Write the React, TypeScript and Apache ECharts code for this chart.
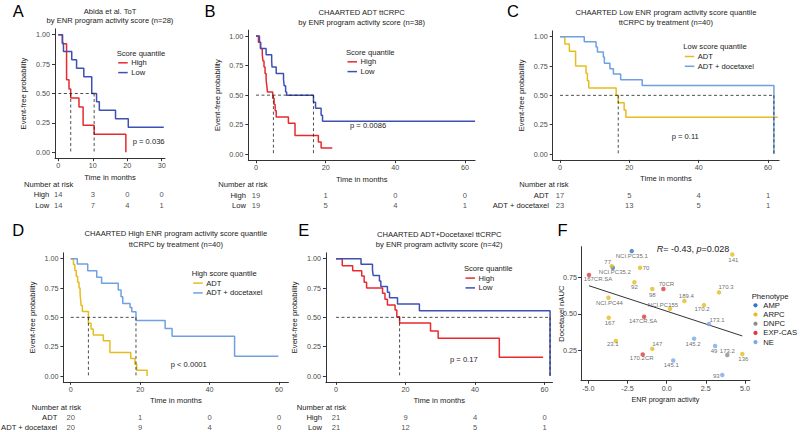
import { useEffect, useRef } from "react";
import * as echarts from "echarts";

type Pt = [number, number];

const FONT = "'Liberation Sans', Arial, Helvetica, sans-serif";
const INK = "#1a1a1a";
const TICK_INK = "#4a4a4a";
const AXIS_INK = "#333333";

const RED = "#E8292E";
const BLUE = "#3F50B5";
const GOLD = "#E6BD1E";
const SKY = "#6FA0E3";

// ---------- A: Abida et al. ToT ----------
const abidaTimes = [0, 10, 20, 30];
const abidaGroups = ["High", "Low"];
const abidaHigh: Pt[] = [[0, 1], [1.2, 0.924], [2.4, 0.616], [3.1, 0.538], [3.6, 0.462], [6.0, 0.385], [7.2, 0.231], [10.4, 0.154], [19.6, 0]];
const abidaLow: Pt[] = [[0, 1], [1.2, 0.929], [1.5, 0.857], [3.9, 0.786], [5.3, 0.714], [7.4, 0.643], [9.7, 0.5], [11.1, 0.429], [11.9, 0.357], [16.6, 0.286], [20.3, 0.214], [30.6, 0.214]];
const abidaMedians = [3.6, 10.4];
const abidaRisk = [[14, 3, 0, 0], [14, 7, 4, 1]];

// ---------- B: CHAARTED ADT ttCRPC ----------
const adtTimes = [0, 20, 40, 60];
const adtGroups = ["High", "Low"];
const adtHigh: Pt[] = [[0, 1], [0.7, 0.947], [1.3, 0.895], [1.8, 0.842], [2.0, 0.789], [2.3, 0.737], [2.6, 0.684], [2.9, 0.632], [3.1, 0.579], [3.3, 0.526], [4.8, 0.474], [5.2, 0.421], [5.5, 0.368], [5.8, 0.316], [9.3, 0.263], [11.2, 0.158], [17.9, 0.105], [18.7, 0.053], [21.9, 0.053]];
const adtLow: Pt[] = [[0, 1], [1.0, 0.947], [1.3, 0.895], [2.9, 0.842], [4.5, 0.789], [4.6, 0.737], [5.8, 0.684], [7.9, 0.632], [8.1, 0.579], [8.5, 0.526], [8.8, 0.5], [16.5, 0.44], [17.1, 0.39], [18.7, 0.33], [19.1, 0.28], [62.9, 0.28]];
const adtMedians = [5.0, 16.5];
const adtRisk = [[19, 1, 0, 0], [19, 5, 4, 1]];

// ---------- C: low score quantile by treatment ----------
const lowTimes = [0, 20, 40, 60];
const lowGroups = ["ADT", "ADT + docetaxel"];
const lowAdt: Pt[] = [[0, 1], [1.4, 0.9375], [2.7, 0.875], [4.5, 0.75], [7.5, 0.6875], [7.9, 0.625], [8.3, 0.5625], [16.2, 0.5], [16.8, 0.4375], [18.5, 0.375], [19.0, 0.3125], [62.8, 0.3125]];
const lowDoc: Pt[] = [[0, 1], [7.0, 0.957], [10.4, 0.913], [10.8, 0.87], [12.5, 0.826], [12.8, 0.773], [14.4, 0.727], [15.4, 0.682], [17.5, 0.634], [23.7, 0.585], [61.7, 0]];
const lowMedians = [16.8, 61.7];
const lowRisk = [[17, 5, 4, 1], [23, 13, 5, 1]];

// ---------- D: high score quantile by treatment ----------
const highTimes = [0, 20, 40, 60];
const highGroups = ["ADT", "ADT + docetaxel"];
const highAdt: Pt[] = [[0, 1], [0.8, 0.95], [1.2, 0.9], [1.6, 0.85], [2.0, 0.8], [2.4, 0.75], [2.7, 0.7], [2.85, 0.65], [3.0, 0.6], [3.35, 0.55], [5.1, 0.45], [5.85, 0.4], [6.5, 0.35], [9.4, 0.3], [11.3, 0.2], [17.3, 0.15], [18.5, 0.1], [19.0, 0.05], [22.0, 0]];
const highDoc: Pt[] = [[0, 1], [1.9, 0.955], [4.9, 0.898], [7.5, 0.841], [8.9, 0.79], [13.7, 0.733], [14.5, 0.676], [15.0, 0.619], [17.1, 0.585], [17.6, 0.548], [18.8, 0.474], [27.2, 0.406], [29.2, 0.338], [47.2, 0.169], [59.8, 0.169]];
const highMedians = [5.1, 18.8];
const highRisk = [[20, 1, 0, 0], [20, 9, 4, 0]];

// ---------- E: ADT+Docetaxel by score ----------
const docTimes = [0, 20, 40, 60];
const docGroups = ["High", "Low"];
const docHigh: Pt[] = [[0, 1], [1.8, 0.94], [4.8, 0.898], [7.4, 0.852], [8.1, 0.8], [8.8, 0.75], [13.4, 0.705], [14.1, 0.655], [14.8, 0.605], [17.0, 0.563], [17.5, 0.506], [18.3, 0.452], [27.2, 0.383], [29.4, 0.321], [47.0, 0.159], [59.6, 0.159]];
const docLow: Pt[] = [[0, 1], [7.2, 0.952], [10.5, 0.905], [10.7, 0.857], [12.5, 0.81], [12.9, 0.762], [14.8, 0.714], [15.4, 0.667], [17.7, 0.614], [24.0, 0.557], [61.6, 0]];
const docMedians = [18.3, 61.6];
const docRisk = [[21, 9, 4, 0], [21, 12, 5, 1]];

// ---------- F: docetaxel response vs ENR activity ----------
const fIds = ["NCI.PC35.1", "77", "NCI.PC35.2", "70", "167CR.SA", "141", "92", "70CR", "98", "170.3", "NCI.PC44", "189.4", "170.2", "NCI.PC155", "167", "147CR.SA", "173.1", "23.1", "147", "170.2CR", "145.2", "49", "145.1", "173.2", "136", "93"];
const fEnr = [-2.23, -3.51, -3.44, -1.7, -4.96, 4.19, -2.06, -0.21, -0.92, 3.34, -3.72, 1.13, 2.38, 0.21, -3.7, -1.44, 2.7, -3.25, -0.92, -1.53, 1.75, 3.09, 0.42, 3.87, 4.83, 3.55];
const fAuc = [0.93, 0.827, 0.816, 0.816, 0.766, 0.907, 0.716, 0.67, 0.67, 0.647, 0.61, 0.588, 0.56, 0.535, 0.473, 0.48, 0.43, 0.314, 0.26, 0.222, 0.33, 0.28, 0.18, 0.218, 0.225, 0.081];
const fPheno = ["AMP", "ARPC", "AMP", "ARPC", "EXP-CAS", "ARPC", "ARPC", "EXP-CAS", "ARPC", "ARPC", "ARPC", "ARPC", "ARPC", "ARPC", "ARPC", "EXP-CAS", "NE", "ARPC", "ARPC", "EXP-CAS", "NE", "NE", "NE", "DNPC", "ARPC", "NE"];
const phenotypes = ["AMP", "ARPC", "DNPC", "EXP-CAS", "NE"];
const fXTicks = [-5, -2.5, 0, 2.5, 5];
const fYTicks = [0.25, 0.5, 0.75];
const probTicks = [0, 0.25, 0.5, 0.75, 1];

// label nudges (px) for the sample names, like a repel layout
const labelNudge: Record<string, [number, number]> = {
  "NCI.PC35.1": [0, 5], "77": [-4, -4.5], "NCI.PC35.2": [2, 4], "70": [6, 0], "167CR.SA": [9, 4],
  "141": [1, 6], "92": [0, 5], "70CR": [3, -5], "98": [0, 6], "170.3": [7, -5], "NCI.PC44": [1, 5],
  "189.4": [2, -5], "170.2": [-2, 4], "NCI.PC155": [-7, -4], "167": [1, 5], "147CR.SA": [-1, 4],
  "173.1": [8, -4], "23.1": [-3, 3], "147": [5, -5], "170.2CR": [-1, 4], "145.2": [-1, 5], "49": [-1, 5],
  "145.1": [-2, 4], "173.2": [0, -4], "136": [1, 5], "93": [-6, 1],
};
const phenoColor: Record<string, string> = {
  AMP: "#3474C6", ARPC: "#E4BD22", DNPC: "#8C8C8C", "EXP-CAS": "#DF3A3F", NE: "#7DA7E6",
};

interface KmPanel {
  letter: string; letterAt: Pt;
  title: string[]; titleY: number[];
  legendTitle: string; legendAt: Pt;
  groups: string[]; colors: string[]; curves: Pt[][]; medians: number[];
  pText: string; pAt: Pt;
  ticks: number[]; risk: number[][];
  x0: number; sx: number; xMin: number; xMax: number; y0: number; sy: number;
  riskRowY: number; riskTitleAt: Pt; rowGap: number;
}

const kmPanels: KmPanel[] = [
  {
    letter: "A", letterAt: [18.3, 11], title: ["Abida et al. ToT", "by ENR program activity score (n=28)"], titleY: [11, 20.5],
    legendTitle: "Score quantile", legendAt: [116.7, 53], groups: abidaGroups, colors: [RED, BLUE],
    curves: [abidaHigh, abidaLow], medians: abidaMedians, pText: "p = 0.036", pAt: [132.7, 141.7],
    ticks: abidaTimes, risk: abidaRisk, x0: 58.3, sx: 3.447, xMin: -0.96, xMax: 30.95, y0: 152.3, sy: 117.6,
    riskRowY: 194.5, riskTitleAt: [24, 184], rowGap: 9,
  },
  {
    letter: "B", letterAt: [210, 11], title: ["CHAARTED ADT ttCRPC", "by ENR program activity score (n=38)"], titleY: [12.3, 22],
    legendTitle: "Score quantile", legendAt: [346, 52], groups: adtGroups, colors: [RED, BLUE],
    curves: [adtHigh, adtLow], medians: adtMedians, pText: "p = 0.0086", pAt: [350, 125],
    ticks: adtTimes, risk: adtRisk, x0: 256, sx: 3.483, xMin: -2.2, xMax: 62.9, y0: 154.3, sy: 118.3,
    riskRowY: 195, riskTitleAt: [218.3, 184], rowGap: 10,
  },
  {
    letter: "C", letterAt: [513, 11], title: ["CHAARTED Low ENR program activity score quantile", "ttCRPC by treatment (n=40)"], titleY: [12.7, 22],
    legendTitle: "Low score quantile", legendAt: [683.3, 46.7], groups: lowGroups, colors: [GOLD, SKY],
    curves: [lowAdt, lowDoc], medians: lowMedians, pText: "p = 0.11", pAt: [671.7, 136],
    ticks: lowTimes, risk: lowRisk, x0: 560, sx: 3.467, xMin: -2.1, xMax: 63.2, y0: 154, sy: 117.3,
    riskRowY: 195.3, riskTitleAt: [519.3, 184], rowGap: 11,
  },
  {
    letter: "D", letterAt: [18.3, 230], title: ["CHAARTED High ENR program activity score quantile", "ttCRPC by treatment (n=40)"], titleY: [233.5, 244],
    legendTitle: "High score quantile", legendAt: [191.7, 273.3], groups: highGroups, colors: [GOLD, SKY],
    curves: [highAdt, highDoc], medians: highMedians, pText: "p < 0.0001", pAt: [170.7, 364],
    ticks: highTimes, risk: highRisk, x0: 70.7, sx: 3.472, xMin: -2.1, xMax: 62.7, y0: 376, sy: 117.3,
    riskRowY: 417.3, riskTitleAt: [31.7, 407.3], rowGap: 13.4,
  },
  {
    letter: "E", letterAt: [303.7, 230], title: ["CHAARTED ADT+Docetaxel ttCRPC", "by ENR program activity score (n=42)"], titleY: [234, 244],
    legendTitle: "Score quantile", legendAt: [464, 268.3], groups: docGroups, colors: [RED, BLUE],
    curves: [docHigh, docLow], medians: docMedians, pText: "p = 0.17", pAt: [450, 359],
    ticks: docTimes, risk: docRisk, x0: 336, sx: 3.475, xMin: -2.9, xMax: 62.3, y0: 376, sy: 117.3,
    riskRowY: 417.3, riskTitleAt: [296.7, 407.3], rowGap: 14,
  },
];

function buildOption() {
  const grid: any[] = [];
  const xAxis: any[] = [];
  const yAxis: any[] = [];
  const series: any[] = [];
  const graphic: any[] = [];

  const text = (x: number, y: number, s: string, o: any = {}, extra: any = {}) =>
    graphic.push({
      type: "text", x, y, silent: true, z: 50, ...extra,
      style: { text: s, fontFamily: FONT, fontSize: 7.6, fill: INK, align: "left", verticalAlign: "middle", ...o },
    });

  const axisLine = { show: true, onZero: false, lineStyle: { color: AXIS_INK, width: 1 } };
  const tickStyle = (vals: number[]) => ({ show: true, customValues: vals, length: 3, lineStyle: { color: AXIS_INK, width: 1 } });
  const labelStyle = { fontFamily: FONT, fontSize: 7.2, color: TICK_INK };
  const nameStyle = { fontFamily: FONT, fontSize: 7.6, color: INK };

  const dashed = (gi: number, data: Pt[]) => ({
    type: "line", xAxisIndex: gi, yAxisIndex: gi, data, symbol: "none", silent: true, z: 4,
    lineStyle: { color: "#222", width: 0.8, type: [3, 2.5] },
  });

  kmPanels.forEach((p) => {
    const gi = grid.length;
    const left = p.x0 + p.xMin * p.sx;
    const width = (p.xMax - p.xMin) * p.sx;
    const top = p.y0 - 1.05 * p.sy;
    grid.push({ left, top, width, height: 1.1 * p.sy, outerBoundsMode: "none", containLabel: false });
    xAxis.push({
      type: "value", gridIndex: gi, min: p.xMin, max: p.xMax,
      axisLine, axisTick: tickStyle(p.ticks), splitLine: { show: false },
      axisLabel: { ...labelStyle, customValues: p.ticks, margin: 4 },
      name: "Time in months", nameLocation: "middle", nameGap: 15, nameTextStyle: nameStyle,
    });
    yAxis.push({
      type: "value", gridIndex: gi, min: -0.05, max: 1.05,
      axisLine, axisTick: tickStyle(probTicks), splitLine: { show: false },
      axisLabel: { ...labelStyle, customValues: probTicks, margin: 5, formatter: (v: number) => v.toFixed(2) },
      name: "Event-free probability", nameLocation: "middle", nameGap: 27, nameTextStyle: nameStyle,
    });

    p.curves.forEach((c, k) =>
      series.push({
        type: "line", name: p.groups[k], xAxisIndex: gi, yAxisIndex: gi, data: c, step: "end",
        symbol: "none", silent: true, z: 3, lineStyle: { color: p.colors[k], width: 1.5 },
      })
    );
    const mMax = Math.max(...p.medians);
    series.push(dashed(gi, [[0, 0.5], [mMax, 0.5]]));
    p.medians.forEach((m) => series.push(dashed(gi, [[m, 0.5], [m, 0]])));

    // number-at-risk table sharing the plot's time scale
    const ri = grid.length;
    grid.push({ left, width, top: p.riskRowY - 5.25, height: 21, outerBoundsMode: "none", containLabel: false });
    xAxis.push({ type: "value", gridIndex: ri, min: p.xMin, max: p.xMax, show: false });
    yAxis.push({
      type: "category", gridIndex: ri, data: p.groups, inverse: true,
      axisLine: { show: false }, axisTick: { show: false }, splitLine: { show: false },
      axisLabel: { fontFamily: FONT, fontSize: 7.6, color: INK, interval: 0, margin: p.rowGap + p.xMin * p.sx },
    });
    series.push({
      type: "scatter", xAxisIndex: ri, yAxisIndex: ri, symbolSize: 0.1, silent: true,
      itemStyle: { color: "transparent" },
      data: p.risk.flatMap((row, r) => p.ticks.map((t, j) => [t, r, row[j]])),
      label: {
        show: true, position: "inside", fontFamily: FONT, fontSize: 7.6, color: INK,
        formatter: (q: any) => String(q.value[2]),
      },
    });

    // titles, legend, p-value, panel letter
    const cx = left + width / 2;
    p.title.forEach((t, k) => text(cx, p.titleY[k], t, { align: "center", fill: "#222" }));
    text(p.letterAt[0], p.letterAt[1], p.letter, { align: "center", fontSize: 16.5, fill: "#000" });
    text(p.legendAt[0], p.legendAt[1], p.legendTitle);
    p.groups.forEach((g, k) => {
      const y = p.legendAt[1] + 9.8 * (k + 1);
      graphic.push({
        type: "line", silent: true, z: 50,
        shape: { x1: p.legendAt[0] + 1.5, y1: y, x2: p.legendAt[0] + 11, y2: y },
        style: { stroke: p.colors[k], lineWidth: 1.5 },
      });
      text(p.legendAt[0] + 14.5, y, g);
    });
    text(p.pAt[0], p.pAt[1], p.pText);
    text(p.riskTitleAt[0], p.riskTitleAt[1], "Number at risk");
  });

  // ---------- panel F ----------
  const fi = grid.length;
  const fLeft = 581, fTop = 246.7, fW = 169, fH = 134;
  grid.push({ left: fLeft, top: fTop, width: fW, height: fH, outerBoundsMode: "none", containLabel: false });
  xAxis.push({
    type: "value", gridIndex: fi, min: -5.47, max: 5.32,
    axisLine, axisTick: tickStyle(fXTicks), splitLine: { show: false },
    axisLabel: { ...labelStyle, customValues: fXTicks, margin: 4, formatter: (v: number) => v.toFixed(1) },
    name: "ENR program activity", nameLocation: "middle", nameGap: 15, nameTextStyle: { ...nameStyle, fontSize: 7.2 },
  });
  yAxis.push({
    type: "value", gridIndex: fi, min: 0.042, max: 0.96,
    axisLine, axisTick: tickStyle(fYTicks), splitLine: { show: false },
    axisLabel: { ...labelStyle, customValues: fYTicks, margin: 4, formatter: (v: number) => v.toFixed(2) },
  });
  // vertical axis title
  text(561, fTop + fH / 2, "Docetaxel nAUC", { align: "center", fontSize: 7.6 }, { rotation: Math.PI / 2 });

  // least-squares trend line through the cell lines
  const n = fEnr.length;
  const mx = fEnr.reduce((a, b) => a + b, 0) / n;
  const my = fAuc.reduce((a, b) => a + b, 0) / n;
  let sxy = 0, sxx = 0;
  fEnr.forEach((x, i) => { sxy += (x - mx) * (fAuc[i] - my); sxx += (x - mx) * (x - mx); });
  const slope = sxy / sxx;
  const x1 = Math.min(...fEnr), x2 = Math.max(...fEnr);
  series.push({
    type: "line", xAxisIndex: fi, yAxisIndex: fi, symbol: "none", silent: true, z: 2,
    data: [[x1, my + slope * (x1 - mx)], [x2, my + slope * (x2 - mx)]],
    lineStyle: { color: "#333", width: 1 },
  });

  phenotypes.forEach((ph) => {
    series.push({
      type: "scatter", name: ph, xAxisIndex: fi, yAxisIndex: fi, symbolSize: 4.5, silent: true, z: 5,
      itemStyle: { color: phenoColor[ph] },
      data: fIds.map((id, i) => ({ id, i })).filter((d) => fPheno[d.i] === ph).map((d) => ({
        value: [fEnr[d.i], fAuc[d.i]], name: d.id,
        label: { offset: labelNudge[d.id] || [0, 5] },
      })),
      label: {
        show: true, position: "inside", fontFamily: FONT, fontSize: 6, color: "#444",
        formatter: (q: any) => q.name,
      },
    });
  });

  text(562.5, 230, "F", { align: "center", fontSize: 16.5, fill: "#000" });
  graphic.push({
    type: "text", x: 656.7, y: 249.3, silent: true, z: 50,
    style: {
      text: "{i|R}= -0.43, {i|p}=0.028", fontFamily: FONT, fontSize: 9, fill: INK, align: "left", verticalAlign: "middle",
      rich: { i: { fontStyle: "italic", fontFamily: FONT, fontSize: 9, fill: INK } },
    },
  });
  text(751.7, 296, "Phenotype", { fontSize: 7.7 });
  phenotypes.forEach((ph, k) => {
    const y = 305.3 + 9.2 * k;
    graphic.push({ type: "circle", silent: true, z: 50, shape: { cx: 755.5, cy: y, r: 2.1 }, style: { fill: phenoColor[ph] } });
    text(763.3, y, ph, { fontSize: 7.7 });
  });

  return { animation: false, backgroundColor: "#fff", grid, xAxis, yAxis, series, graphic };
}

export default function App() {
  const ref = useRef<HTMLDivElement>(null);
  useEffect(() => {
    if (!ref.current) return;
    const chart = echarts.init(ref.current, undefined, { renderer: "svg" });
    chart.setOption(buildOption());
    return () => chart.dispose();
  }, []);
  return (
    <div
      ref={ref}
      style={{ position: "absolute", left: 0, top: 0, width: 800, height: 432, background: "#fff" }}
    />
  );
}
